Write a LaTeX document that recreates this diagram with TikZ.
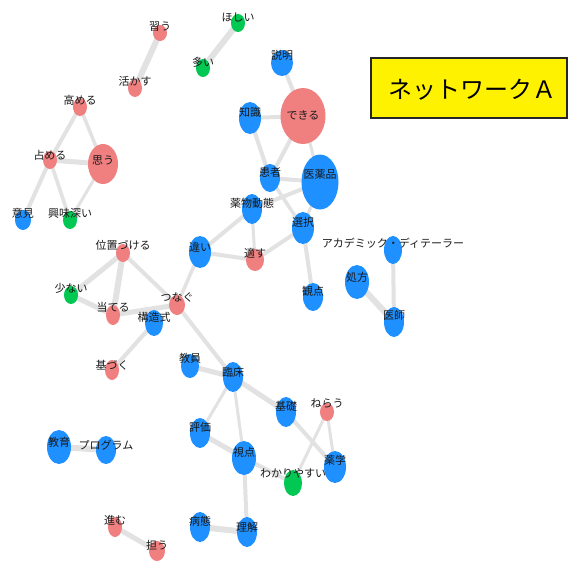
\documentclass[tikz,border=0pt]{standalone}
\usepackage{fontspec}
\newfontfamily\jp{Noto Sans CJK JP}
\usetikzlibrary{shapes.geometric}
\definecolor{nred}{HTML}{F08080}
\definecolor{nblue}{HTML}{1E90FF}
\definecolor{ngreen}{HTML}{00C853}
\definecolor{egray}{HTML}{E2E2E2}
\pgfdeclarelayer{bg}
\pgfsetlayers{bg,main}
\tikzset{
  bub/.style={ellipse, inner sep=0pt, draw=none},
  lab/.style={font=\jp\fontsize{11}{11}\selectfont, inner sep=0pt, text=black!90},
  ed/.style={draw=egray, line width=#1pt},
  titlebox/.style={draw=black!85, line width=1.2pt, fill=yellow, inner sep=0pt},
}
\newcommand\nd[8]{%
  \node[bub, fill=#6, minimum width=#4pt, minimum height=#5pt] (#1) at (#2,#3) {};
  \node[lab] (#1l) at (#2,#8) {#7};}
\begin{document}
\begin{tikzpicture}[x=1pt,y=-1pt]
\useasboundingbox (0,0) rectangle (568,560);
% title
\node[titlebox, minimum width=196pt, minimum height=60pt] (title) at (469,88) {};
\node[font=\jp\fontsize{24}{24}\selectfont, inner sep=0pt] (titlet) at (472,90) {ネットワークＡ};
% nodes
\nd{narau}{160}{33}{14}{16}{nred}{習う}{27}
\nd{ikasu}{135}{88}{14}{18}{nred}{活かす}{81}
\nd{takameru}{80}{107}{14}{18}{nred}{高める}{100}
\nd{shimeru}{50}{160}{14}{18}{nred}{占める}{155}
\nd{omou}{103}{164}{30}{40}{nred}{思う}{160}
\nd{iken}{23}{220}{16}{20}{nblue}{意見}{213}
\nd{kyomi}{70}{220}{14}{18}{ngreen}{興味深い}{213}
\nd{hoshii}{238}{23}{14}{18}{ngreen}{ほしい}{17}
\nd{ooi}{203}{68}{14}{18}{ngreen}{多い}{62}
\nd{setsumei}{282}{63}{22}{26}{nblue}{説明}{55}
\nd{chishiki}{250}{118}{22}{32}{nblue}{知識}{112}
\nd{dekiru}{303}{116}{45}{56}{nred}{できる}{115}
\nd{kanja}{270}{178}{20}{28}{nblue}{患者}{172}
\nd{iyaku}{320}{182}{37}{55}{nblue}{医薬品}{174}
\nd{yakubutsu}{252}{209}{20}{30}{nblue}{薬物動態}{203}
\nd{sentaku}{303}{228}{22}{32}{nblue}{選択}{222}
\nd{chigai}{200}{252}{22}{32}{nblue}{違い}{247}
\nd{tekisu}{255}{260}{18}{22}{nred}{適す}{253}
\nd{academic}{393}{250}{18}{28}{nblue}{アカデミック・ディテーラー}{243}
\nd{shoho}{357}{282}{24}{34}{nblue}{処方}{277}
\nd{ishi}{394}{322}{20}{30}{nblue}{医師}{315}
\nd{kanten}{313}{297}{20}{28}{nblue}{観点}{291}
\nd{ichi}{123}{253}{14}{18}{nred}{位置づける}{245}
\nd{sukunai}{71}{295}{14}{18}{ngreen}{少ない}{288}
\nd{ateru}{113}{315}{14}{20}{nred}{当てる}{307}
\nd{tsunagu}{177}{305}{16}{20}{nred}{つなぐ}{297}
\nd{kozo}{154}{323}{18}{26}{nblue}{構造式}{317}
\nd{motozuku}{112}{370}{14}{20}{nred}{基づく}{365}
\nd{kyoin}{190}{366}{18}{24}{nblue}{教員}{358}
\nd{rinsho}{233}{377}{20}{30}{nblue}{臨床}{372}
\nd{kiso}{286}{412}{20}{30}{nblue}{基礎}{406}
\nd{nerau}{327}{412}{14}{18}{nred}{ねらう}{403}
\nd{hyoka}{200}{433}{20}{30}{nblue}{評価}{427}
\nd{shiten}{244}{458}{24}{34}{nblue}{視点}{452}
\nd{yakugaku}{335}{467}{22}{32}{nblue}{薬学}{460}
\nd{wakari}{293}{483}{18}{26}{ngreen}{わかりやすい}{473}
\nd{byotai}{200}{527}{20}{30}{nblue}{病態}{521}
\nd{rikai}{247}{532}{20}{30}{nblue}{理解}{527}
\nd{kyoiku}{59}{447}{24}{34}{nblue}{教育}{442}
\nd{program}{106}{450}{20}{28}{nblue}{プログラム}{445}
\nd{susumu}{115}{527}{14}{20}{nred}{進む}{520}
\nd{ninau}{157}{551}{16}{20}{nred}{担う}{545}
% edges
\begin{pgfonlayer}{bg}
\fill[white] (0,0) rectangle (568,560);
\draw[ed=6] (narau.center) -- (ikasu.center);
\draw[ed=6] (hoshii.center) -- (ooi.center);
\draw[ed=4] (takameru.center) -- (shimeru.center);
\draw[ed=3.5] (takameru.center) -- (omou.center);
\draw[ed=5] (shimeru.center) -- (omou.center);
\draw[ed=4] (shimeru.center) -- (iken.center);
\draw[ed=3.5] (shimeru.center) -- (kyomi.center);
\draw[ed=3] (omou.center) -- (kyomi.center);
\draw[ed=4] (setsumei.center) -- (dekiru.center);
\draw[ed=4] (chishiki.center) -- (dekiru.center);
\draw[ed=4] (chishiki.center) -- (kanja.center);
\draw[ed=4] (dekiru.center) -- (kanja.center);
\draw[ed=3] (dekiru.center) -- (iyaku.center);
\draw[ed=4] (kanja.center) -- (iyaku.center);
\draw[ed=3.5] (kanja.center) -- (sentaku.center);
\draw[ed=4] (yakubutsu.center) -- (iyaku.center);
\draw[ed=4] (yakubutsu.center) -- (chigai.center);
\draw[ed=3] (yakubutsu.center) -- (tekisu.center);
\draw[ed=3] (iyaku.center) -- (sentaku.center);
\draw[ed=4] (sentaku.center) -- (tekisu.center);
\draw[ed=4] (sentaku.center) -- (kanten.center);
\draw[ed=4] (chigai.center) -- (tekisu.center);
\draw[ed=3.5] (chigai.center) -- (tsunagu.center);
\draw[ed=4] (academic.center) -- (ishi.center);
\draw[ed=6] (shoho.center) -- (ishi.center);
\draw[ed=5] (ichi.center) -- (sukunai.center);
\draw[ed=6] (ichi.center) -- (ateru.center);
\draw[ed=4] (ichi.center) -- (tsunagu.center);
\draw[ed=5] (sukunai.center) -- (ateru.center);
\draw[ed=5] (ateru.center) -- (tsunagu.center);
\draw[ed=4] (kozo.center) -- (motozuku.center);
\draw[ed=4] (tsunagu.center) -- (rinsho.center);
\draw[ed=5] (kyoin.center) -- (rinsho.center);
\draw[ed=5] (rinsho.center) -- (kiso.center);
\draw[ed=3] (rinsho.center) -- (hyoka.center);
\draw[ed=3] (rinsho.center) -- (shiten.center);
\draw[ed=5] (hyoka.center) -- (shiten.center);
\draw[ed=4] (kiso.center) -- (yakugaku.center);
\draw[ed=3] (nerau.center) -- (yakugaku.center);
\draw[ed=3] (nerau.center) -- (wakari.center);
\draw[ed=4] (shiten.center) -- (wakari.center);
\draw[ed=4] (shiten.center) -- (rikai.center);
\draw[ed=6] (byotai.center) -- (rikai.center);
\draw[ed=6] (kyoiku.center) -- (program.center);
\draw[ed=5] (susumu.center) -- (ninau.center);
\end{pgfonlayer}
\end{tikzpicture}
\end{document}
